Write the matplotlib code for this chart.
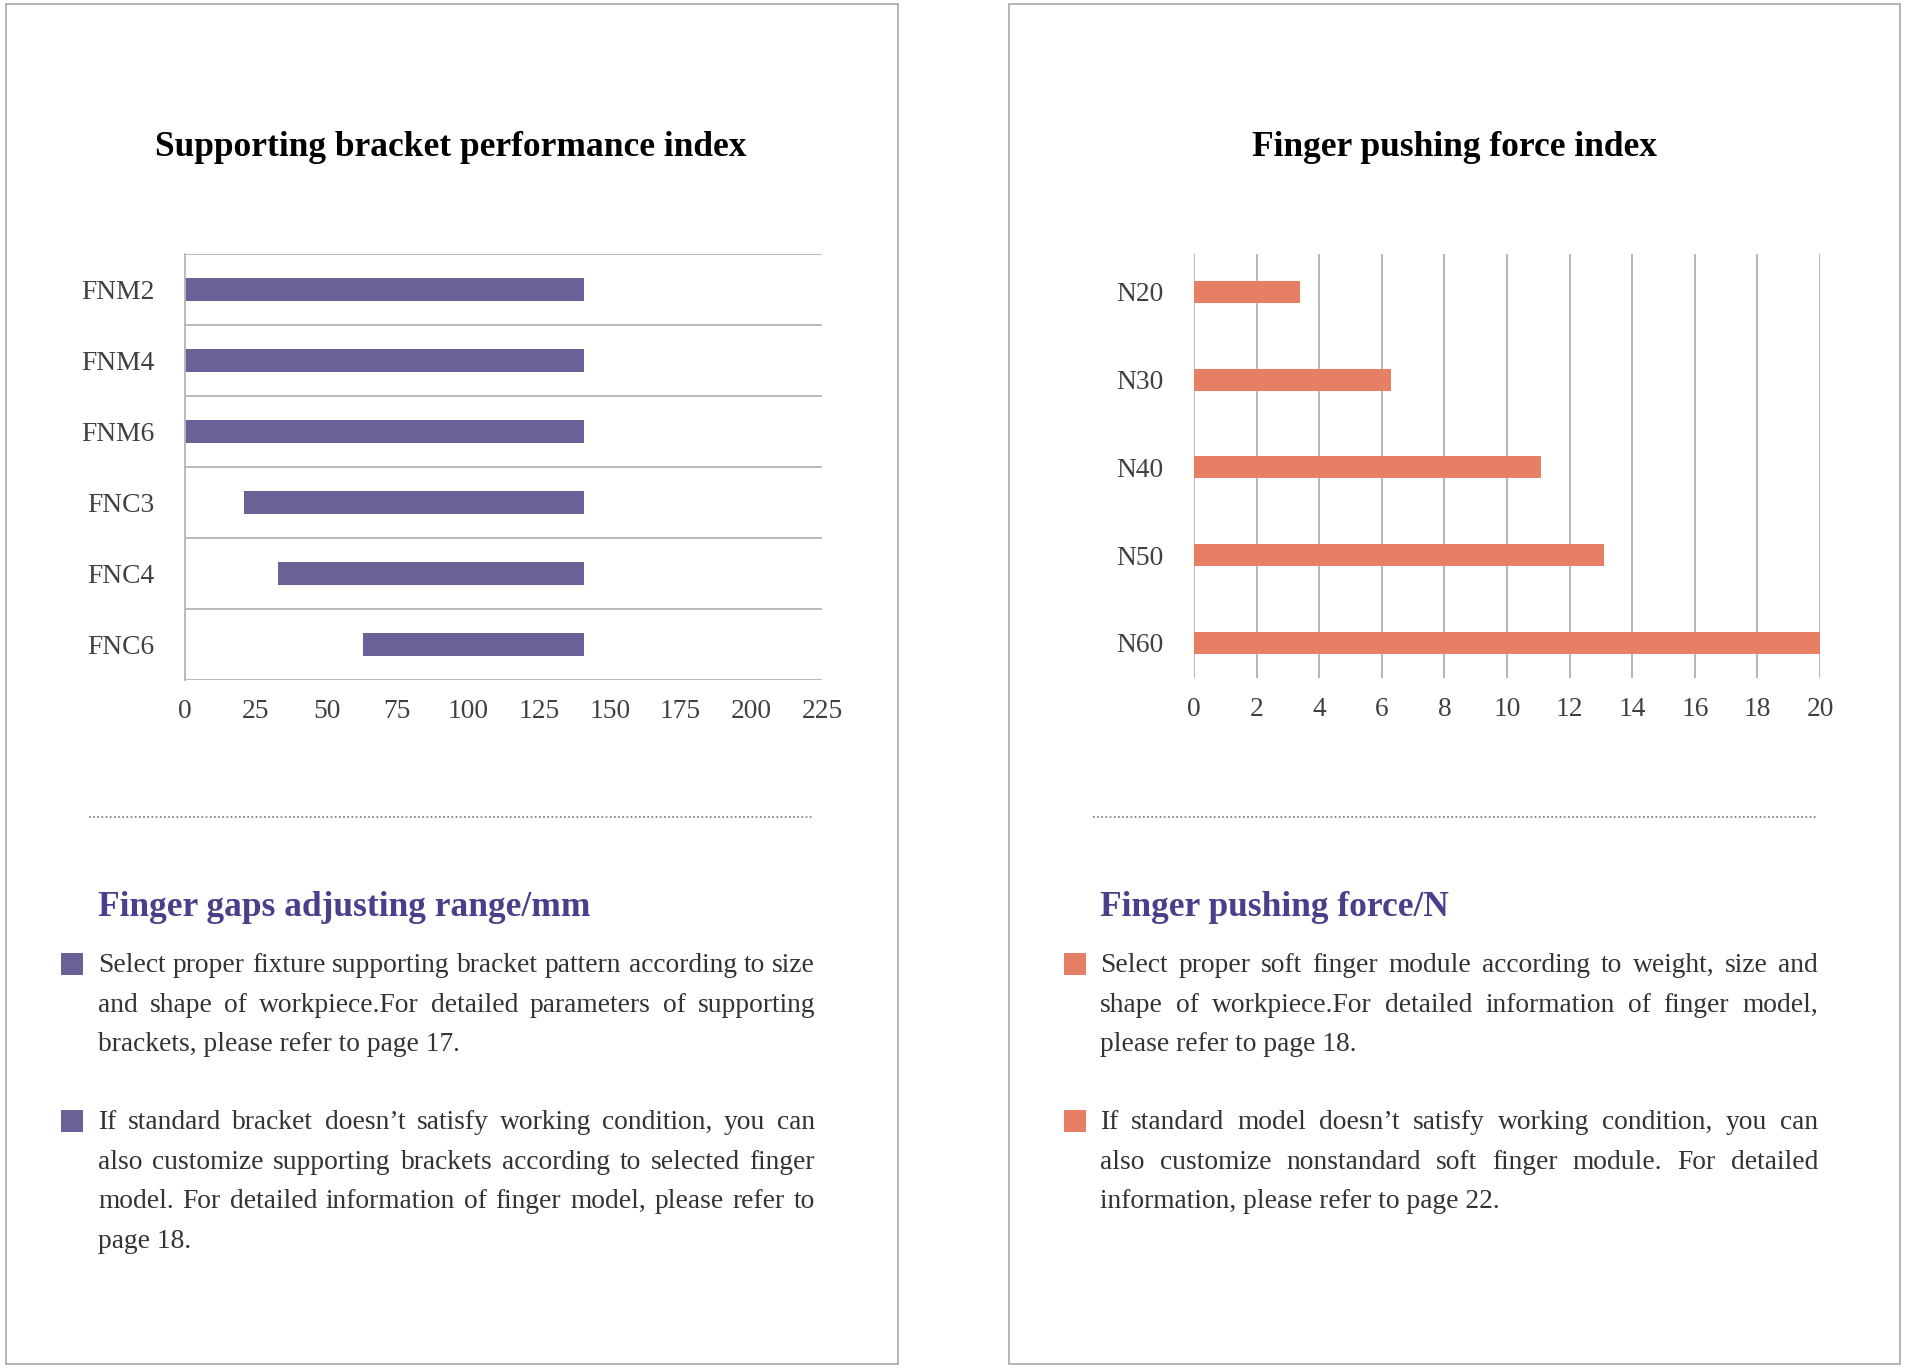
import matplotlib
matplotlib.use('Agg')
import matplotlib.pyplot as plt
from matplotlib.transforms import IdentityTransform
from matplotlib.patches import Rectangle
from matplotlib.lines import Line2D

# data
bracket_models = ['FNM2', 'FNM4', 'FNM6', 'FNC3', 'FNC4', 'FNC6']
gap_min = [0, 0, 0, 21, 33, 63]
gap_max = [141, 141, 141, 141, 141, 141]
bracket_ticks = [0, 25, 50, 75, 100, 125, 150, 175, 200, 225]

finger_models = ['N20', 'N30', 'N40', 'N50', 'N60']
push_force = [3.4, 6.3, 11.1, 13.1, 20]
force_ticks = [0, 2, 4, 6, 8, 10, 12, 14, 16, 18, 20]

left_title = 'Supporting bracket performance index'
right_title = 'Finger pushing force index'
left_heading = 'Finger gaps adjusting range/mm'
right_heading = 'Finger pushing force/N'
left_paras = [
    ['Select proper fixture supporting bracket pattern according to size',
     'and shape of workpiece.For detailed parameters of supporting',
     'brackets, please refer to page 17.'],
    ['If standard bracket doesn\u2019t satisfy working condition, you can',
     'also customize supporting brackets according to selected finger',
     'model. For detailed information of finger model, please refer to',
     'page 18.'],
]
right_paras = [
    ['Select proper soft finger module according to weight, size and',
     'shape of workpiece.For detailed information of finger model,',
     'please refer to page 18.'],
    ['If standard model doesn\u2019t satisfy working condition, you can',
     'also customize nonstandard soft finger module. For detailed',
     'information, please refer to page 22.'],
]

PURPLE = '#6b6199'
ORANGE = '#e67f66'
HEAD = '#4b3f8b'
TXT = '#333333'
FONT = 'Liberation Serif'

W, H = 1910, 1372
fig = plt.figure(figsize=(W / 100, H / 100), dpi=100)
ident = IdentityTransform()
renderer = fig.canvas.get_renderer()


def Y(y):
    return H - y


def add_axes(x0, y0, x1, y1):
    return fig.add_axes([x0 / W, 1 - y1 / H, (x1 - x0) / W, (y1 - y0) / H])


def ptext(x, y, s, **kw):
    kw.setdefault('family', FONT)
    return fig.text(x, Y(y), s, transform=ident, **kw)


def justified(x0, x1, y, line, last):
    # y is the visual middle of the line; draw on a fixed baseline
    kw = dict(fontsize=19.8, color=TXT, va='baseline')
    yb = y + 8
    if last:
        ptext(x0, yb, line, **kw)
        return
    words = line.split(' ')
    arts = [ptext(0, yb, w, **kw) for w in words]
    widths = [a.get_window_extent(renderer).width for a in arts]
    gap = (x1 - x0 - sum(widths)) / (len(words) - 1)
    x = x0
    for a, w in zip(arts, widths):
        a.set_x(x)
        x += w + gap


def panel(px0, px1, title, tcx, heading, paras, color, bx, tx0, tx1, dot0, dot1):
    fig.add_artist(Rectangle((px0, Y(1364)), px1 - px0, 1360, transform=ident,
                             fill=False, edgecolor='#a8a8a8', linewidth=1.2))
    ptext(tcx, 147, title, fontsize=25.5, weight='bold', color='black',
          ha='center', va='center')
    fig.add_artist(Line2D([dot0, dot1], [Y(817), Y(817)], transform=ident,
                          color='#777777', linewidth=1.2, linestyle=(0, (1, 1.5))))
    ptext(tx0, 907, heading, fontsize=25.5, weight='bold', color=HEAD, va='center')
    line_ys = [[964, 1004, 1043], [1121, 1161, 1200, 1240]]
    for para, ys in zip(paras, line_ys):
        fig.add_artist(Rectangle((bx, Y(ys[0] + 11)), 22, 22, transform=ident,
                                 facecolor=color, edgecolor='none'))
        for i, (line, yy) in enumerate(zip(para, ys)):
            justified(tx0, tx1, yy, line, i == len(para) - 1)


def style_ticks(ax, ypad):
    for lab in ax.get_xticklabels() + ax.get_yticklabels():
        lab.set_family(FONT)
        lab.set_fontsize(19.8)
        lab.set_color('#404040')
    ax.tick_params(axis='x', length=0, pad=13.5)
    ax.tick_params(axis='y', length=0, pad=ypad)


# left chart: floating bars (range)
ax1 = add_axes(185, 254, 822, 680)
widths = [hi - lo for lo, hi in zip(gap_min, gap_max)]
ax1.barh(range(len(bracket_models)), widths, left=gap_min, height=0.31,
         color=PURPLE)
ax1.set_xlim(0, 225)
ax1.set_ylim(len(bracket_models) - 0.5, -0.5)
ax1.set_xticks(bracket_ticks)
ax1.set_yticks(range(len(bracket_models)))
ax1.set_yticklabels(bracket_models)
for k in range(len(bracket_models) + 1):
    ax1.axhline(k - 0.5, color='#b4b4b4', linewidth=1.3, zorder=0)
for s in ['top', 'right', 'bottom']:
    ax1.spines[s].set_visible(False)
ax1.spines['left'].set_color('#b4b4b4')
ax1.spines['left'].set_linewidth(1.3)
style_ticks(ax1, 22)

# right chart
ax2 = add_axes(1194, 254, 1820, 678)
ax2.barh(range(len(finger_models)), push_force, height=0.25, color=ORANGE,
         zorder=3)
ax2.set_xlim(0, 20)
ax2.set_ylim(4.40, -0.43)
ax2.set_xticks(force_ticks)
ax2.set_yticks(range(len(finger_models)))
ax2.set_yticklabels(finger_models)
ax2.grid(axis='x', color='#a8a8a8', linewidth=1.2, zorder=0)
for s in ax2.spines.values():
    s.set_visible(False)
style_ticks(ax2, 22)

panel(6, 898, left_title, 451, left_heading, left_paras, PURPLE,
      61, 98, 815, 89, 814)
panel(1009, 1900, right_title, 1454, right_heading, right_paras, ORANGE,
      1064, 1100, 1818, 1093, 1817)

fig.savefig('out.png', dpi=100, facecolor='white')
